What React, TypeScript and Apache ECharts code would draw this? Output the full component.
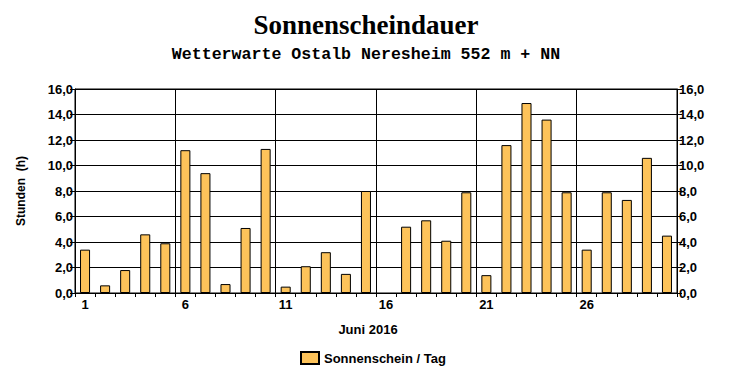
import React, { useEffect, useRef } from "react";
import * as echarts from "echarts";

const days = Array.from({ length: 30 }, (_, i) => String(i + 1));
const sunshine = [
  3.4, 0.6, 1.8, 4.6, 3.9, 11.2, 9.4, 0.7, 5.1, 11.3,
  0.5, 2.1, 3.2, 1.5, 8.0, 0.0, 5.2, 5.7, 4.1, 7.9,
  1.4, 11.6, 14.9, 13.6, 7.9, 3.4, 7.9, 7.3, 10.6, 4.5,
];
const seriesName = "Sonnenschein / Tag";
const titleText = "Sonnenscheindauer";
const subtitleText = "Wetterwarte Ostalb Neresheim 552 m + NN";
const xName = "Juni 2016";
const yName = "Stunden  (h)";

const fmt = (v: number) => v.toFixed(1).replace(".", ",");
const labelFont = {
  fontFamily: "Liberation Sans, Arial, sans-serif",
  fontWeight: "bold" as const,
  fontSize: 13,
  color: "#000",
};

export default function App() {
  const ref = useRef<HTMLDivElement>(null);
  useEffect(() => {
    if (!ref.current) return;
    const chart = echarts.init(ref.current, undefined, { renderer: "svg" });
    const yAxisBase = {
      type: "value" as const,
      min: 0,
      max: 16,
      interval: 2,
      axisLine: { show: true, lineStyle: { color: "#000", width: 1 } },
      axisTick: { show: true, length: 5, lineStyle: { color: "#000" } },
      axisLabel: { ...labelFont, margin: 2, formatter: (v: number) => fmt(v) },
    };
    chart.setOption({
      animation: false,
      backgroundColor: "#fff",
      graphic: [
        {
          type: "text",
          x: 366,
          y: 11,
          style: {
            text: titleText,
            font: "bold 27px 'Liberation Serif', 'Times New Roman', serif",
            fill: "#000",
            align: "center",
          },
        },
        {
          type: "text",
          x: 366,
          y: 46,
          style: {
            text: subtitleText,
            font: "bold 16.6px 'Liberation Mono', 'Courier New', monospace",
            fill: "#000",
            align: "center",
          },
        },
        {
          type: "text",
          x: 368,
          y: 323,
          style: {
            text: xName,
            font: "bold 13px 'Liberation Sans', Arial, sans-serif",
            fill: "#000",
            align: "center",
          },
        },
      ],
      legend: {
        data: [seriesName],
        left: 295,
        top: 346,
        icon: "rect",
        itemWidth: 18,
        itemHeight: 12,
        itemGap: 6,
        textStyle: { ...labelFont },
      },
      grid: {
        left: 75,
        right: 55,
        top: 89,
        bottom: 87,
        show: true,
        borderColor: "#000",
        borderWidth: 1,
        backgroundColor: "transparent",
      },
      xAxis: {
        type: "category",
        data: days,
        boundaryGap: true,
        axisLine: { show: true, lineStyle: { color: "#000" } },
        axisTick: { show: true, interval: 0, length: 4, lineStyle: { color: "#000" } },
        axisLabel: {
          ...labelFont,
          margin: 5,
          interval: (index: number) => index % 5 === 0,
        },
        splitLine: {
          show: true,
          interval: (index: number) => index % 5 === 0 && index > 0,
          lineStyle: { color: "#000", width: 1 },
        },
      },
      yAxis: [
        {
          ...yAxisBase,
          position: "left",
          name: yName,
          nameLocation: "middle",
          nameGap: 48,
          nameRotate: 90,
          nameTextStyle: { ...labelFont, fontSize: 12 },
          splitLine: { show: true, lineStyle: { color: "#000", width: 1 } },
        },
        {
          ...yAxisBase,
          position: "right",
          splitLine: { show: false },
        },
      ],
      series: [
        {
          name: seriesName,
          type: "bar",
          data: sunshine.map((v) => (v === 0 ? "-" : v)),
          yAxisIndex: 0,
          barWidth: "50%",
          itemStyle: {
            color: "#FDC35A",
            borderColor: "#000",
            borderWidth: 1,
          },
        },
      ],
    });
    return () => chart.dispose();
  }, []);
  return <div ref={ref} style={{ width: 732, height: 380, position: "absolute", left: 0, top: 0 }} />;
}
